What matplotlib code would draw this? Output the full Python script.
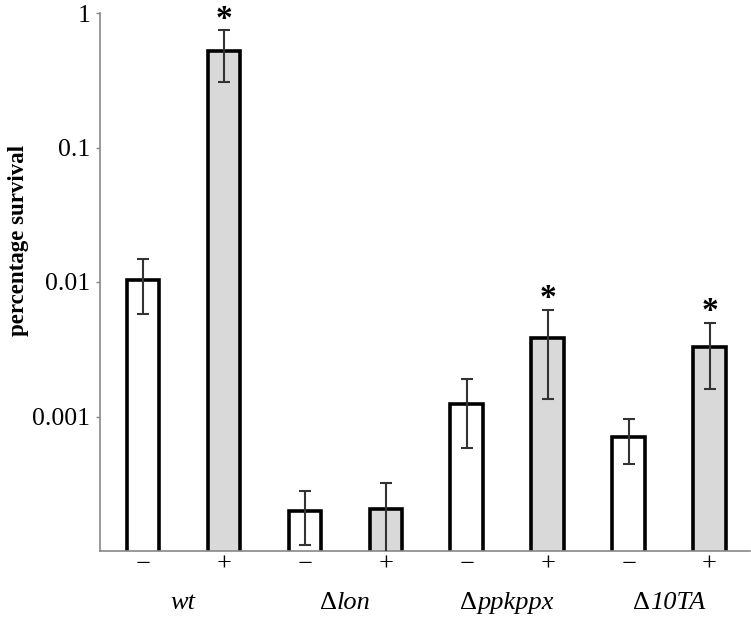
import matplotlib
matplotlib.use("Agg")
import matplotlib.pyplot as plt
from matplotlib.offsetbox import TextArea, HPacker, AnnotationBbox
import numpy as np

# ---- data ----
group_prefix = ["", "\u0394", "\u0394", "\u0394"]
group_names = ["wt", "lon", "ppkppx", "10TA"]
treat_labels = ["\u2212", "+"]
values = [0.0104, 0.524, 0.000197, 0.000207, 0.00123, 0.00383, 0.000702, 0.00328]
err_low = [0.0046, 0.219, 0.000087, 0.000112, 0.00065, 0.00247, 0.000255, 0.00168]
err_high = [0.0043, 0.219, 0.000084, 0.000112, 0.00067, 0.00239, 0.000253, 0.00166]
significant = [False, True, False, False, False, True, False, True]
yticks = [1, 0.1, 0.01, 0.001]
ytick_labels = ["1", "0.1", "0.01", "0.001"]

plt.rcParams["font.family"] = ["Liberation Serif", "DejaVu Serif"]

W, H = 751, 618
fig = plt.figure(figsize=(W / 100, H / 100), dpi=100)
ax = fig.add_axes([100 / W, 1 - 551 / H, 650 / W, (551 - 13) / H])

x = np.arange(len(values))
colors = ["white", "#d9d9d9"] * len(group_names)
ax.bar(x, values, width=0.4, color=colors, edgecolor="black", linewidth=2.6, zorder=2)
ax.errorbar(x, values, yerr=[err_low, err_high], fmt="none", ecolor="#333333",
            elinewidth=1.5, capsize=4.5, capthick=1.5, zorder=3)

ax.set_yscale("log")
ax.set_ylim(1e-4, 1)
ax.set_xlim(-0.53, 7.5)
ax.set_yticks(yticks)
ax.set_yticklabels(ytick_labels)
ax.minorticks_off()
ax.tick_params(axis="y", which="major", length=3, width=1, color="#888888",
               labelsize=18.5, pad=4)
ax.set_xticks([])

for s in ["top", "right"]:
    ax.spines[s].set_visible(False)
for s in ["left", "bottom"]:
    ax.spines[s].set_color("#888888")
    ax.spines[s].set_linewidth(1.2)

fig.text(18.5 / W, 1 - 240 / H, "percentage survival", rotation=90,
         ha="center", va="center", fontsize=16.5, fontweight="bold")

# asterisks
for xi, v, eh, sig in zip(x, values, err_high, significant):
    if sig:
        ax.annotate("*", xy=(xi, v + eh), xytext=(0, 2), textcoords="offset points",
                    ha="center", va="baseline", fontsize=24, fontweight="bold",
                    annotation_clip=False)

# treatment labels
xt = ax.get_xaxis_transform()
for xi in x:
    ax.text(xi, -(565 - 551) / 538, treat_labels[xi % 2], transform=xt,
            ha="center", va="center", fontsize=19)

# group labels: upright delta + italic name
for gi, (pre, name) in enumerate(zip(group_prefix, group_names)):
    parts = []
    if pre:
        parts.append(TextArea(pre, textprops=dict(fontsize=19)))
    parts.append(TextArea(name, textprops=dict(fontsize=19, style="italic")))
    pack = HPacker(children=parts, align="baseline", pad=0, sep=0)
    ab = AnnotationBbox(pack, (2 * gi + 0.5, -(592 - 551) / 538), xycoords=xt,
                        box_alignment=(0.5, 1), frameon=False, pad=0,
                        annotation_clip=False)
    ax.add_artist(ab)

fig.savefig("out.png", dpi=100)
